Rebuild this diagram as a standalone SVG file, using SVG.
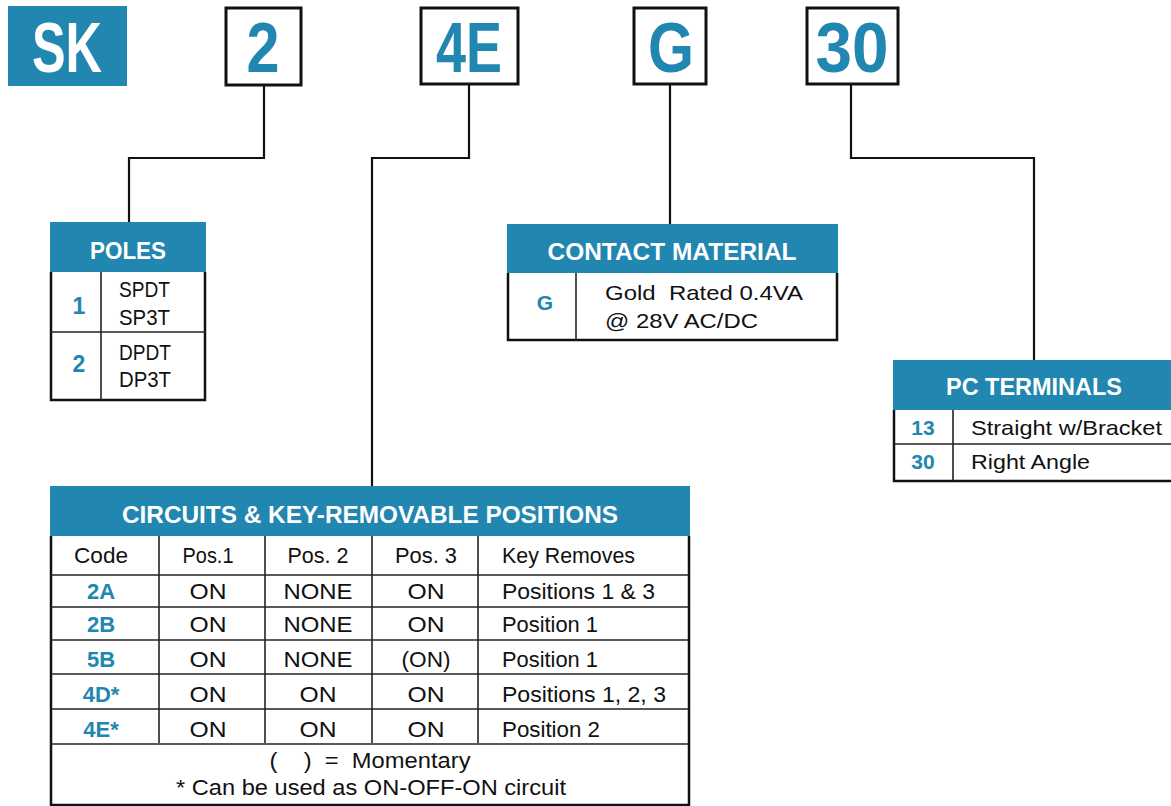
<svg xmlns="http://www.w3.org/2000/svg" width="1171" height="806" viewBox="0 0 1171 806">
<style>
.box{fill:#fff;stroke:#111;stroke-width:3}
.hdr{fill:#2186b0}
.brd{fill:none;stroke:#111;stroke-width:2.5}
.grid{fill:none;stroke:#222;stroke-width:1.6}
.conn{fill:none;stroke:#111;stroke-width:2.2}
.big{font-family:"Liberation Sans",Arial,sans-serif;font-weight:bold;font-size:70px;fill:#2186b0;text-anchor:middle}
.ht{font-family:"Liberation Sans",Arial,sans-serif;font-weight:bold;font-size:24px;fill:#fff;text-anchor:middle}
.t{font-family:"Liberation Sans",Arial,sans-serif;font-size:21px;fill:#111}
.c{text-anchor:middle}
.b{font-family:"Liberation Sans",Arial,sans-serif;font-weight:bold;font-size:21px;fill:#2186b0;text-anchor:middle}
</style>
<rect width="1171" height="806" fill="#fff"/>
<g id="connectors">
<polyline class="conn" points="264,86 264,158 129,158 129,222"/>
<polyline class="conn" points="469,85 469,158 372,158 372,486"/>
<polyline class="conn" points="670,85 670,224"/>
<polyline class="conn" points="851,85 851,158 1034,158 1034,360"/>
</g>
<g id="sk">
<rect x="8" y="6" width="119" height="80" class="hdr"/>
<text x="67" y="72" class="big" style="fill:#fff" textLength="70" lengthAdjust="spacingAndGlyphs">SK</text>
</g>
<g id="box-2">
<rect x="226" y="8" width="75" height="77" class="box"/>
<text x="263" y="72" class="big" textLength="33" lengthAdjust="spacingAndGlyphs">2</text>
</g>
<g id="box-4E">
<rect x="421" y="8" width="97" height="76" class="box"/>
<text x="469" y="72" class="big" textLength="66" lengthAdjust="spacingAndGlyphs">4E</text>
</g>
<g id="box-G">
<rect x="634" y="8" width="72" height="76" class="box"/>
<text x="671" y="72" class="big" textLength="46" lengthAdjust="spacingAndGlyphs">G</text>
</g>
<g id="box-30">
<rect x="807" y="8" width="91" height="76" class="box"/>
<text x="852" y="72" class="big" textLength="73" lengthAdjust="spacingAndGlyphs">30</text>
</g>
<g id="poles">
<rect x="50" y="222" width="156" height="50" class="hdr"/>
<text x="128" y="259" class="ht" textLength="76" lengthAdjust="spacingAndGlyphs">POLES</text>
<polyline class="brd" points="51,272 51,400 205,400 205,272"/>
<line class="grid" x1="101" y1="272" x2="101" y2="400"/>
<line class="grid" x1="51" y1="332" x2="205" y2="332"/>
<text x="79" y="314" class="b" style="font-size:23px">1</text>
<text x="79" y="372" class="b" style="font-size:23px">2</text>
<g class="t" style="font-size:22px">
<text x="119" y="297" textLength="51" lengthAdjust="spacingAndGlyphs">SPDT</text>
<text x="119" y="325" textLength="51" lengthAdjust="spacingAndGlyphs">SP3T</text>
<text x="119" y="360" textLength="52" lengthAdjust="spacingAndGlyphs">DPDT</text>
<text x="119" y="387" textLength="52" lengthAdjust="spacingAndGlyphs">DP3T</text>
</g>
</g>
<g id="contact-material">
<rect x="507" y="224" width="331" height="49" class="hdr"/>
<text x="672" y="260" class="ht" textLength="249" lengthAdjust="spacingAndGlyphs">CONTACT MATERIAL</text>
<polyline class="brd" points="508,273 508,340 837,340 837,273"/>
<line class="grid" x1="576" y1="273" x2="576" y2="340"/>
<text x="545" y="310" class="b">G</text>
<text x="605" y="300" class="t" textLength="198" lengthAdjust="spacingAndGlyphs" xml:space="preserve">Gold  Rated 0.4VA</text>
<text x="605" y="328" class="t" textLength="153" lengthAdjust="spacingAndGlyphs">@ 28V AC/DC</text>
</g>
<g id="pc-terminals">
<rect x="893" y="360" width="278" height="50" class="hdr"/>
<text x="1034" y="395" class="ht" textLength="176" lengthAdjust="spacingAndGlyphs">PC TERMINALS</text>
<polyline class="brd" points="894,410 894,481 1171,481"/>
<line class="grid" x1="953" y1="410" x2="953" y2="481"/>
<line class="grid" x1="894" y1="444" x2="1171" y2="444"/>
<text x="923" y="435" class="b">13</text>
<text x="923" y="469" class="b">30</text>
<text x="971" y="435" class="t" textLength="191" lengthAdjust="spacingAndGlyphs">Straight w/Bracket</text>
<text x="971" y="469" class="t" textLength="119" lengthAdjust="spacingAndGlyphs">Right Angle</text>
</g>
<g id="circuits">
<rect x="50" y="486" width="640" height="50" class="hdr"/>
<text x="370" y="523" class="ht" textLength="496" lengthAdjust="spacingAndGlyphs">CIRCUITS &amp; KEY-REMOVABLE POSITIONS</text>
<polyline class="brd" points="51,536 51,805 689,805 689,536"/>
<g class="grid">
<line x1="159" y1="536" x2="159" y2="743"/>
<line x1="265" y1="536" x2="265" y2="743"/>
<line x1="372" y1="536" x2="372" y2="743"/>
<line x1="478" y1="536" x2="478" y2="743"/>
<line x1="51" y1="575" x2="689" y2="575"/>
<line x1="51" y1="607" x2="689" y2="607"/>
<line x1="51" y1="640" x2="689" y2="640"/>
<line x1="51" y1="674" x2="689" y2="674"/>
<line x1="51" y1="709" x2="689" y2="709"/>
<line x1="51" y1="744" x2="689" y2="744"/>
</g>
<g class="t c" style="font-size:22px">
<text x="101" y="563" textLength="54" lengthAdjust="spacingAndGlyphs">Code</text>
<text x="208" y="563" textLength="51" lengthAdjust="spacingAndGlyphs">Pos.1</text>
<text x="318" y="563" textLength="61" lengthAdjust="spacingAndGlyphs">Pos. 2</text>
<text x="426" y="563" textLength="62" lengthAdjust="spacingAndGlyphs">Pos. 3</text>
<text x="208" y="599" textLength="37" lengthAdjust="spacingAndGlyphs">ON</text>
<text x="318" y="599" textLength="69" lengthAdjust="spacingAndGlyphs">NONE</text>
<text x="426" y="599" textLength="37" lengthAdjust="spacingAndGlyphs">ON</text>
<text x="208" y="632" textLength="37" lengthAdjust="spacingAndGlyphs">ON</text>
<text x="318" y="632" textLength="69" lengthAdjust="spacingAndGlyphs">NONE</text>
<text x="426" y="632" textLength="37" lengthAdjust="spacingAndGlyphs">ON</text>
<text x="208" y="667" textLength="37" lengthAdjust="spacingAndGlyphs">ON</text>
<text x="318" y="667" textLength="69" lengthAdjust="spacingAndGlyphs">NONE</text>
<text x="426" y="667" textLength="49" lengthAdjust="spacingAndGlyphs">(ON)</text>
<text x="208" y="702" textLength="37" lengthAdjust="spacingAndGlyphs">ON</text>
<text x="318" y="702" textLength="37" lengthAdjust="spacingAndGlyphs">ON</text>
<text x="426" y="702" textLength="37" lengthAdjust="spacingAndGlyphs">ON</text>
<text x="208" y="737" textLength="37" lengthAdjust="spacingAndGlyphs">ON</text>
<text x="318" y="737" textLength="37" lengthAdjust="spacingAndGlyphs">ON</text>
<text x="426" y="737" textLength="37" lengthAdjust="spacingAndGlyphs">ON</text>
<text x="370" y="768" xml:space="preserve" textLength="201" lengthAdjust="spacingAndGlyphs">(    )  =  Momentary</text>
<text x="371" y="795" textLength="390" lengthAdjust="spacingAndGlyphs">* Can be used as ON-OFF-ON circuit</text>
</g>
<g class="t" style="font-size:22px">
<text x="502" y="563" textLength="133" lengthAdjust="spacingAndGlyphs">Key Removes</text>
<text x="502" y="599" textLength="153" lengthAdjust="spacingAndGlyphs">Positions 1 &amp; 3</text>
<text x="502" y="632" textLength="96" lengthAdjust="spacingAndGlyphs">Position 1</text>
<text x="502" y="667" textLength="96" lengthAdjust="spacingAndGlyphs">Position 1</text>
<text x="502" y="702" textLength="164" lengthAdjust="spacingAndGlyphs">Positions 1, 2, 3</text>
<text x="502" y="737" textLength="98" lengthAdjust="spacingAndGlyphs">Position 2</text>
</g>
<g class="b" style="font-size:22px">
<text x="101" y="599">2A</text>
<text x="101" y="632">2B</text>
<text x="101" y="667">5B</text>
<text x="101" y="702">4D*</text>
<text x="101" y="737">4E*</text>
</g>
</g>
</svg>
